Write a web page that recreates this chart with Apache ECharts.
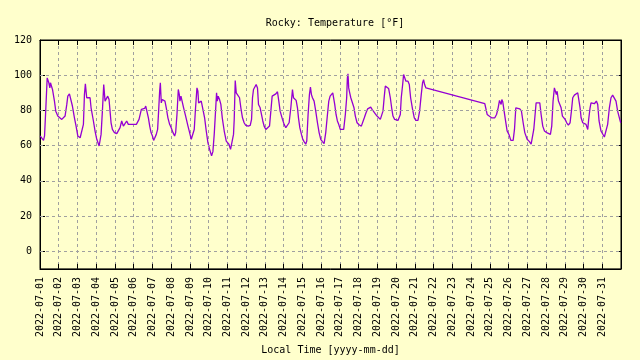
<!DOCTYPE html>
<html>
<head>
<meta charset="utf-8">
<script src="https://cdn.jsdelivr.net/npm/echarts@6/dist/echarts.min.js"></script>
<style>
html,body{margin:0;padding:0;background:#ffffcc;}
#chart{width:640px;height:360px;}
</style>
</head>
<body>
<div id="chart"></div>
<script>
const year = 2022;
const titleText = 'Rocky: Temperature [°F]';
const xName = 'Local Time [yyyy-mm-dd]';
const yTicks = [0, 20, 40, 60, 80, 100, 120];
const times = [
'07-01 00:12','07-01 02:18','07-01 04:30','07-01 05:48','07-01 07:30','07-01 09:12','07-01 10:00','07-01 11:18','07-01 12:36','07-01 13:24','07-01 14:42','07-01 16:00','07-01 18:30','07-01 20:12','07-01 22:48',
'07-02 00:30','07-02 03:54','07-02 06:00','07-02 08:06','07-02 10:18','07-02 11:36','07-02 13:42','07-02 15:24','07-02 17:30','07-02 20:06','07-02 22:12',
'07-03 00:24','07-03 03:24','07-03 05:30','07-03 07:36','07-03 08:54','07-03 10:06','07-03 11:48','07-03 14:00','07-03 16:06','07-03 17:24','07-03 20:24','07-03 22:30',
'07-04 00:42','07-04 03:42','07-04 05:00','07-04 06:12','07-04 07:54','07-04 09:36','07-04 10:30','07-04 11:18','07-04 13:30','07-04 14:42','07-04 16:24','07-04 17:42','07-04 19:00','07-04 20:42','07-04 23:18',
'07-05 02:18','07-05 04:24','07-05 06:30','07-05 08:36','07-05 10:48','07-05 12:54','07-05 15:00','07-05 17:06',
'07-06 03:24','07-06 05:30','07-06 06:48','07-06 08:30','07-06 09:48','07-06 11:00','07-06 14:00','07-06 15:24','07-06 17:00','07-06 18:48','07-06 20:30','07-06 22:12',
'07-07 00:00','07-07 01:30','07-07 02:48','07-07 04:54','07-07 06:36','07-07 07:54','07-07 09:12','07-07 10:06','07-07 11:18','07-07 12:36','07-07 14:18','07-07 16:00','07-07 17:42','07-07 19:48','07-07 22:00',
'07-08 00:00','07-08 02:18','07-08 04:24','07-08 05:42','07-08 07:24','07-08 09:06','07-08 10:24','07-08 11:12','07-08 12:30','07-08 14:12','07-08 15:54','07-08 18:30','07-08 21:30','07-08 23:36',
'07-09 01:42','07-09 03:48','07-09 05:30','07-09 07:12','07-09 09:00','07-09 10:12','07-09 11:06','07-09 12:24','07-09 14:30','07-09 16:36','07-09 18:48','07-09 20:54','07-09 23:00',
'07-10 01:12','07-10 03:42','07-10 05:24','07-10 07:06','07-10 08:48','07-10 10:06','07-10 11:00','07-10 12:12','07-10 13:54','07-10 15:36','07-10 17:24','07-10 19:54','07-10 22:30',
'07-11 01:54','07-11 04:00','07-11 06:06','07-11 07:48','07-11 08:42','07-11 10:00','07-11 11:18','07-11 12:30','07-11 13:48','07-11 15:30','07-11 17:12','07-11 19:18','07-11 21:24','07-11 23:06',
'07-12 00:54','07-12 02:36','07-12 05:12','07-12 06:54','07-12 08:06','07-12 09:24','07-12 11:06','07-12 12:48','07-12 14:30','07-12 15:48','07-12 17:54','07-12 19:36','07-12 21:18','07-12 23:00',
'07-13 01:12','07-13 03:18','07-13 05:54','07-13 07:36','07-13 09:18','07-13 11:00','07-13 14:00','07-13 16:06','07-13 17:48','07-13 19:30','07-13 22:30',
'07-14 00:36','07-14 02:48','07-14 04:54','07-14 07:00','07-14 09:12','07-14 11:18','07-14 12:36','07-14 14:18','07-14 16:00','07-14 17:42','07-14 19:00','07-14 20:42','07-14 22:48',
'07-15 00:30','07-15 02:12','07-15 04:18','07-15 05:36','07-15 07:18','07-15 09:00','07-15 10:18','07-15 11:36','07-15 12:54','07-15 15:00','07-15 17:06','07-15 19:18','07-15 21:24','07-15 23:30',
'07-16 01:42','07-16 03:48','07-16 05:54','07-16 08:06','07-16 09:48','07-16 11:30','07-16 13:12','07-16 14:54','07-16 16:06','07-16 17:24','07-16 19:06','07-16 20:48','07-16 22:30',
'07-17 00:36','07-17 02:48','07-17 04:54','07-17 07:00','07-17 08:42','07-17 09:36','07-17 10:24','07-17 11:18','07-17 12:36','07-17 14:00','07-17 16:24','07-17 18:06','07-17 19:48','07-17 22:00',
'07-18 00:54','07-18 03:30','07-18 05:12','07-18 07:18','07-18 09:30','07-18 11:36','07-18 13:48','07-18 15:30','07-18 17:12','07-18 19:18','07-18 21:24','07-18 23:36',
'07-19 01:42','07-19 03:48','07-19 05:54','07-19 07:12','07-19 08:54','07-19 10:12','07-19 12:18','07-19 14:24','07-19 16:36','07-19 18:18','07-19 20:00','07-19 22:06','07-19 23:48',
'07-20 02:24','07-20 05:24','07-20 06:36','07-20 08:24','07-20 09:36','07-20 10:54','07-20 12:36','07-20 15:12','07-20 16:54','07-20 18:36','07-20 21:06','07-20 23:18',
'07-21 01:24','07-21 04:00','07-21 06:06','07-21 08:12','07-21 09:54','07-21 11:12','07-21 12:30','07-21 14:12',
'07-24 17:36','07-24 19:48','07-24 20:36','07-24 23:12',
'07-25 02:12','07-25 06:24','07-25 08:36','07-25 10:42','07-25 12:24','07-25 13:36','07-25 14:30','07-25 15:24','07-25 16:36','07-25 17:54','07-25 19:36','07-25 22:12',
'07-26 00:48','07-26 02:54','07-26 05:54','07-26 07:36','07-26 09:18','07-26 11:00','07-26 14:24','07-26 16:30','07-26 18:42','07-26 20:48','07-26 23:48',
'07-27 00:36','07-27 02:48','07-27 04:54','07-27 06:36','07-27 08:18','07-27 10:00','07-27 11:18','07-27 13:24','07-27 16:00','07-27 17:42','07-27 19:48','07-27 22:00',
'07-28 00:54','07-28 03:06','07-28 05:36','07-28 07:18','07-28 09:00','07-28 10:42','07-28 12:00','07-28 13:18','07-28 14:12','07-28 15:54','07-28 17:36','07-28 19:18','07-28 21:00','07-28 22:42',
'07-29 00:24','07-29 02:30','07-29 04:36','07-29 06:48','07-29 08:30','07-29 10:12','07-29 12:18','07-29 14:24','07-29 16:36','07-29 18:18','07-29 19:36','07-29 20:54','07-29 23:00',
'07-30 01:06','07-30 03:12','07-30 05:24','07-30 06:36','07-30 08:24','07-30 09:36','07-30 11:48','07-30 13:54','07-30 16:30','07-30 18:12','07-30 19:54','07-30 22:24',
'07-31 00:36','07-31 02:42','07-31 05:12','07-31 06:54','07-31 09:06','07-31 11:12','07-31 13:18','07-31 15:30','07-31 17:36','07-31 19:42','07-31 21:54','07-31 23:36'
];
const temps = [
65.5,65,63,65.5,81.5,98.5,99,95.7,92.8,95.7,94.7,91.9,85.3,79.6,76.8,
75.8,74.9,74.3,76.8,83.4,88.1,89.4,89,82.5,75.8,71.1,
65.5,64.5,65,72.1,89,95.1,87.2,88.1,87.2,81.5,74,68.3,
63.6,59.8,59.2,66.4,79.6,94.7,95.1,85.3,86.2,88.1,86.2,79.6,73,69.2,67.4,
66.8,66,70.2,74,71.1,71.1,74,72.1,
72.1,72.1,74.9,75.8,80.6,81.1,81.1,82.5,81.5,75.8,71.1,67.4,
65.5,63,64.2,66.4,69.2,79.6,90.9,95.7,84.3,86.2,87.2,85.3,81.5,75.8,72.1,
70.2,67.4,65.5,67.4,77.7,91.9,89,85.3,88.1,87.2,81.5,76.8,71.1,67.4,
63.6,64.2,69.2,81.5,92.8,90.9,84.3,85.3,85.3,84.3,75.8,68.3,61.7,
57.9,54.2,56.6,66.4,79.6,90,85.3,88.1,86.2,83.4,75.8,68.3,62.6,
60.8,57.9,57.9,66.4,74.9,97,90,89,90,87.2,81.5,75.8,73,71.7,
72.1,71.1,71.5,74.9,87.2,91.9,92.8,94.7,92.8,83.4,81.5,77.7,74,71.1,
69.2,69.2,71.1,79.6,88.1,89,89.4,90.6,85.3,79.6,74.9,
72.1,70.2,71.1,73,81.5,91.9,87.2,86.8,85.7,81.5,75.8,70.2,66.4,
63.6,62.3,60.8,62.6,77.7,89,93.2,89,87.2,85.3,79.6,73,67.4,63.6,
62.3,61.1,67.4,77.7,85.3,88.1,88.7,90,89,83.4,77.7,74,72.1,
69.2,68.7,69.2,77.7,87.2,98.5,100.8,92.8,90,87.2,86.6,81.5,76.8,73,
71.7,71.1,72.1,75.8,78.7,80.9,80.9,81.9,80.6,79.6,78.1,76.8,
75.8,74.9,74.3,79.6,88.1,93.8,92.8,92.5,87.2,81.5,76.8,74.9,74,
74.3,77.7,87.2,94.7,100.4,99.4,96.6,96.6,94.7,87.2,80.6,75.8,
74.3,74.3,79.6,89,95.7,97.5,94.7,92.8,
83.8,83,77.7,76.8,
75.8,75.8,77.7,81.5,85.7,86.2,83.4,86.2,84.9,84.3,75.8,68.3,
66,63,63,69.2,81.5,81.1,80.9,79.6,73,67.4,63.6,
64.5,62.3,60.8,61.7,69.2,77.7,84.3,84.3,84.3,77.7,71.1,68.3,
67.4,66.4,66.4,71.1,85.3,92.8,91.9,89,90.9,85.3,86.2,81.5,76.8,75.8,
74.9,73,71.7,73,79.6,87.2,88.7,89.4,90,89,81.5,75.8,73,
73,72.1,69.2,74.9,81.5,84.3,83.4,83.8,85.3,83.4,74,68.3,
67.4,64.9,64.2,72.1,81.5,87.2,88.7,89.4,85.3,79.6,75.8,73
];

function toUTC(s) {
  const parts = s.split(' ');
  const md = parts[0].split('-').map(Number);
  const hm = parts[1].split(':').map(Number);
  return Date.UTC(year, md[0] - 1, md[1], hm[0], hm[1]);
}
const data = times.map((t, i) => [toUTC(t), temps[i]]);
const DAY = 86400000;
const xMin = Date.UTC(year, 6, 1);
const xMax = Date.UTC(year, 7, 1);
const yMin = -10, yMax = 120;
const FONT = 'DejaVu Sans Mono';
function pad(n) { return (n < 10 ? '0' : '') + n; }
function dateLabel(v) {
  if (v >= xMax - 1000) return '';
  const d = new Date(v);
  return d.getUTCFullYear() + '-' + pad(d.getUTCMonth() + 1) + '-' + pad(d.getUTCDate());
}
const gridLine = { show: true, lineStyle: { color: '#a0a0a0', type: [3, 3], width: 1 } };
const axisLineBlack = { show: true, onZero: false, lineStyle: { color: '#000', width: 1 } };
const tickIn = { show: true, inside: true, length: 5, lineStyle: { color: '#000' } };
const yTickIn = { show: true, inside: true, length: 5, lineStyle: { color: '#000' }, customValues: yTicks };

const chart = echarts.init(document.getElementById('chart'), null, { renderer: 'canvas' });
chart.setOption({
  backgroundColor: '#ffffcc',
  animation: false,
  title: {
    text: titleText, left: 330, top: 13, textAlign: 'center',
    textStyle: { fontFamily: FONT, fontSize: 10, fontWeight: 'normal', color: '#000' }
  },
  grid: { left: 40, right: 19, top: 40, bottom: 89, show: true, borderColor: '#000', borderWidth: 1, backgroundColor: 'transparent' },
  xAxis: [{
    type: 'value', min: xMin, max: xMax, interval: DAY,
    name: xName, nameLocation: 'middle', nameGap: 81,
    nameTextStyle: { fontFamily: FONT, fontSize: 10, color: '#000', verticalAlign: 'middle' },
    axisLine: axisLineBlack, axisTick: tickIn,
    axisLabel: { rotate: 90, margin: 8, fontFamily: FONT, fontSize: 10, color: '#000', formatter: dateLabel, showMaxLabel: false },
    splitLine: gridLine
  }, {
    type: 'value', position: 'top', min: xMin, max: xMax, interval: DAY,
    axisLine: axisLineBlack, axisTick: tickIn, axisLabel: { show: false }, splitLine: { show: false }
  }],
  yAxis: [{
    type: 'value', min: yMin, max: yMax, interval: 10,
    axisLine: axisLineBlack, axisTick: yTickIn,
    axisLabel: { margin: 8, fontFamily: FONT, fontSize: 10, color: '#000', customValues: yTicks },
    splitLine: { show: false }
  }, {
    type: 'value', position: 'right', min: yMin, max: yMax, interval: 10,
    axisLine: axisLineBlack, axisTick: yTickIn, axisLabel: { show: false }, splitLine: { show: false }
  }],
  series: [{
    type: 'line', data: data, showSymbol: false, symbol: 'none',
    lineStyle: { color: '#9400d3', width: 1.3 }, itemStyle: { color: '#9400d3' },
    markLine: {
      silent: true, symbol: 'none', label: { show: false }, animation: false,
      lineStyle: { color: '#a0a0a0', type: [3, 3], width: 1 },
      data: yTicks.filter(v => v < yMax).map(v => ({ yAxis: v }))
    },
    z: 3
  }]
});
</script>
</body>
</html>
